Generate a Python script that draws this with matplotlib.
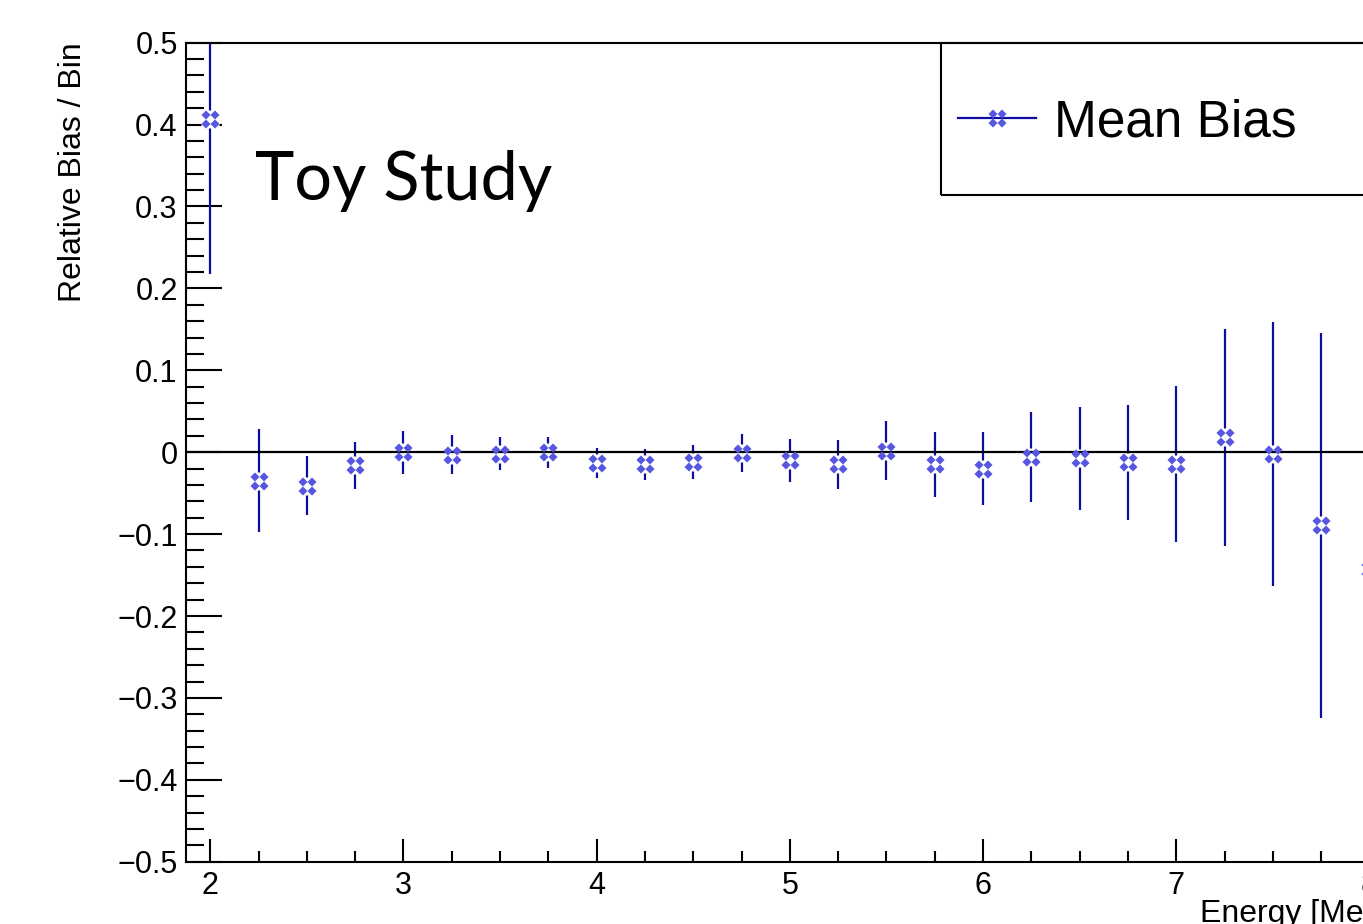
import matplotlib
matplotlib.use('Agg')
import matplotlib.pyplot as plt
from matplotlib.path import Path
from matplotlib.lines import Line2D
from matplotlib.patches import Rectangle
from matplotlib.ticker import FuncFormatter, MultipleLocator

# data
energy = [2.0, 2.25, 2.5, 2.75, 3.0, 3.25, 3.5, 3.75, 4.0, 4.25, 4.5, 4.75, 5.0,
          5.25, 5.5, 5.75, 6.0, 6.25, 6.5, 6.75, 7.0, 7.25, 7.5, 7.75, 8.0]
bias = [0.407, -0.035, -0.041, -0.016, 0.000, -0.003, -0.002, 0.000, -0.013,
        -0.0145, -0.012, -0.001, -0.010, -0.015, 0.002, -0.015, -0.020, -0.006,
        -0.0075, -0.0125, -0.0145, 0.018, -0.0025, -0.089, -0.143]
bias_err = [0.19, 0.063, 0.036, 0.029, 0.026, 0.024, 0.020, 0.019, 0.018, 0.019,
            0.021, 0.023, 0.026, 0.0295, 0.036, 0.040, 0.045, 0.055, 0.0625,
            0.0705, 0.0955, 0.133, 0.161, 0.235, 0.28]
y_ticks = [-0.5, -0.4, -0.3, -0.2, -0.1, 0.0, 0.1, 0.2, 0.3, 0.4, 0.5]
x_ticks = [2, 3, 4, 5, 6, 7, 8]

line_col = '#0c0ca0'
mark_col = '#5656e0'

plt.rcParams['font.family'] = ['Liberation Sans', 'DejaVu Sans']

# ROOT-like marker: four small diamonds in a square
verts, codes = [], []
for cx, cy in [(-0.5, 0.5), (0.5, 0.5), (-0.5, -0.5), (0.5, -0.5)]:
    h = 0.5
    verts += [(cx, cy + h), (cx + h, cy), (cx, cy - h), (cx - h, cy), (cx, cy + h)]
    codes += [Path.MOVETO, Path.LINETO, Path.LINETO, Path.LINETO, Path.CLOSEPOLY]
four_diamonds = Path(verts, codes)

fig = plt.figure(figsize=(13.63, 9.24), dpi=100)
ax = fig.add_axes([0.1365, 0.0674, 0.886, 0.8864])

ax.errorbar(energy, bias, yerr=bias_err, fmt='none', ecolor=line_col,
            elinewidth=1.6, capsize=0, zorder=2)
# white patch so the error bar stops at the marker
ax.plot(energy, bias, ls='none', marker='s', ms=13.5, mfc='white', mec='none',
        zorder=3)
ax.axhline(0, color='black', lw=1.6, zorder=3.5)
ax.plot(energy, bias, ls='none', marker=four_diamonds, ms=13, mfc=mark_col,
        mec='none', zorder=4)

ax.set_xlim(1.875, 8.125)
ax.set_ylim(-0.5, 0.5)

ax.set_xticks(x_ticks)
ax.xaxis.set_minor_locator(MultipleLocator(0.25))
ax.set_yticks(y_ticks)
ax.yaxis.set_minor_locator(MultipleLocator(0.02))
ax.yaxis.set_major_formatter(FuncFormatter(
    lambda v, p: '0' if abs(v) < 1e-9 else f'{v:.1f}'.replace('-', '\u2212')))

ax.tick_params(which='both', direction='in', top=False, right=False,
               width=1.5, labelsize=22)
ax.tick_params(axis='x', which='major', length=16.5, pad=7)
ax.tick_params(axis='x', which='minor', length=8)
ax.tick_params(axis='y', which='major', length=26, pad=6)
ax.tick_params(axis='y', which='minor', length=13)
for s in ax.spines.values():
    s.set_linewidth(1.5)

ax.set_ylabel('Relative Bias / Bin', fontsize=23, loc='top')
ax.yaxis.set_label_coords(-0.081, 1.0)
ax.set_xlabel('Energy [MeV]', fontsize=23, loc='right')
ax.xaxis.set_label_coords(1.0, -0.045)

ax.text(0.057, 0.808, 'Toy Study', transform=ax.transAxes, fontsize=48,
        family=['Lato', 'DejaVu Sans'], va='baseline', ha='left')

# legend box
ax.add_patch(Rectangle((0.625, 0.8136), 0.5, 0.1864, transform=ax.transAxes,
                       fill=False, edgecolor='black', lw=1.5, clip_on=False,
                       zorder=5))
handle = Line2D([], [], color=line_col, lw=1.6, marker=four_diamonds, ms=13,
                mfc=mark_col, mec='none')
ax.legend([handle], ['Mean Bias'], loc='center left',
          bbox_to_anchor=(0.639, 0.902), frameon=False, fontsize=37,
          handlelength=1.52, handletextpad=0.35, borderpad=0, borderaxespad=0)

fig.savefig('out.png', dpi=100)
